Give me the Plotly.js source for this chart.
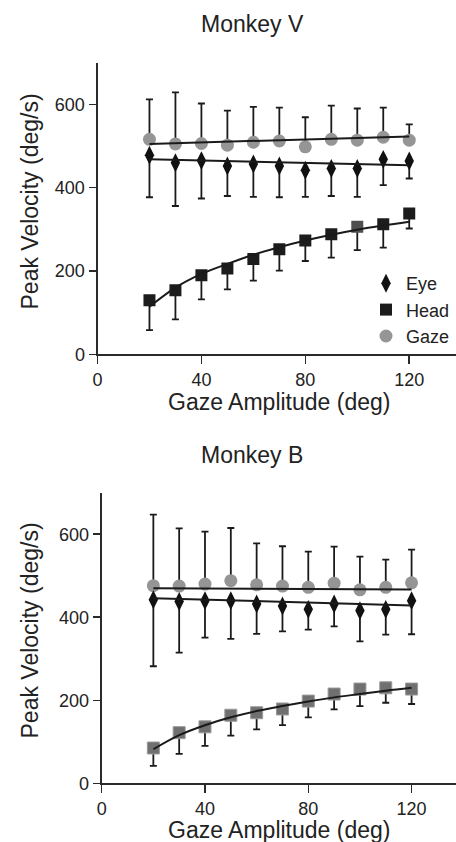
<!DOCTYPE html>
<html>
<head>
<meta charset="utf-8">
<script src="https://cdn.plot.ly/plotly-3.0.1.min.js"></script>
<style>html,body{margin:0;padding:0;background:#fff;}#chart{width:456px;height:842px;}</style>
</head>
<body>
<div id="chart"></div>
<script>
// Gaze amplitude bins (deg)
const amplitude = [20, 30, 40, 50, 60, 70, 80, 90, 100, 110, 120];
const fitEnds = [20, 120];

// Monkey V
const vGaze = [516, 505, 506, 502, 509, 512, 498, 516, 514, 521, 514];
const vGazeErr = [96, 124, 96, 83, 85, 80, 71, 81, 76, 71, 38];
const vEye = [478, 460, 465, 452, 457, 452, 442, 446, 446, 468, 464];
const vEyeErr = [101, 104, 91, 72, 79, 75, 64, 66, 68, 62, 42];
const vHead = [130, 154, 190, 206, 229, 252, 273, 288, 306, 312, 338];
const vHeadErr = [72, 70, 58, 50, 52, 51, 49, 56, 56, 56, 36];
const vGazeFit = [505, 523];
const vEyeFit = [468, 454];
const vHeadFit = [114, 160, 193, 217, 239, 257, 273, 287, 299, 309, 318];

// Monkey B
const bGaze = [476, 475, 480, 488, 478, 475, 472, 482, 466, 472, 483];
const bGazeErr = [171, 139, 126, 127, 100, 96, 86, 88, 80, 67, 80];
const bEye = [442, 438, 440, 440, 432, 427, 419, 432, 416, 419, 440];
const bEyeErr = [160, 123, 89, 92, 72, 61, 49, 54, 74, 61, 81];
const bHead = [85, 122, 136, 164, 170, 179, 198, 215, 227, 230, 227];
const bHeadErr = [43, 51, 46, 49, 40, 39, 39, 37, 41, 36, 36];
const bGazeFit = [470, 467];
const bEyeFit = [446, 428];
const bHeadFit = [82, 116, 140, 159, 174, 186, 197, 207, 215, 223, 230];

const seriesNames = ['Eye', 'Head', 'Gaze'];
const xTicks = [0, 40, 80, 120];
const yTicks = [0, 200, 400, 600];

const zeros = amplitude.map(() => 0);
const INK = '#1a1a1a';
const GREY = '#959595';
const FONT = 'Liberation Sans, Arial, Helvetica, sans-serif';

function errUp(arr) {
  return {type: 'data', symmetric: false, array: arr, arrayminus: zeros,
          color: INK, thickness: 1.8, width: 3.5};
}
function errDown(arr) {
  return {type: 'data', symmetric: false, array: zeros, arrayminus: arr,
          color: INK, thickness: 1.8, width: 3.5};
}

function panel(xa, ya, gaze, gazeErr, eye, eyeErr, head, headErr, headColor, gFit, eFit, hFit, legend) {
  return [
    {x: amplitude, y: gaze, xaxis: xa, yaxis: ya, type: 'scatter', mode: 'markers',
     name: seriesNames[2], legendrank: 3, showlegend: legend,
     marker: {symbol: 'circle', size: 13, color: GREY, line: {width: 0}},
     error_y: errUp(gazeErr)},
    {x: amplitude, y: eye, xaxis: xa, yaxis: ya, type: 'scatter', mode: 'markers',
     name: seriesNames[0], legendrank: 1, showlegend: legend,
     marker: {symbol: 'diamond-tall', size: 13.5, color: '#111111', line: {width: 0}},
     error_y: errDown(eyeErr)},
    {x: amplitude, y: head, xaxis: xa, yaxis: ya, type: 'scatter', mode: 'markers',
     name: seriesNames[1], legendrank: 2, showlegend: legend,
     marker: {symbol: 'square', size: 12, color: headColor,
              line: {width: legend ? 0 : 1, color: '#9a9a9a'}},
     error_y: errDown(headErr)},
    {x: fitEnds, y: gFit, xaxis: xa, yaxis: ya, type: 'scatter', mode: 'lines',
     showlegend: false, hoverinfo: 'skip', line: {color: INK, width: 2}},
    {x: fitEnds, y: eFit, xaxis: xa, yaxis: ya, type: 'scatter', mode: 'lines',
     showlegend: false, hoverinfo: 'skip', line: {color: INK, width: 2}},
    {x: amplitude, y: hFit, xaxis: xa, yaxis: ya, type: 'scatter', mode: 'lines',
     showlegend: false, hoverinfo: 'skip', line: {color: INK, width: 2, shape: 'spline'}}
  ];
}

const vHeadColors = amplitude.map((a, i) => i === 8 ? '#4f4f4f' : '#1c1c1c');
const data = [].concat(
  panel('x', 'y', vGaze, vGazeErr, vEye, vEyeErr, vHead, vHeadErr, vHeadColors, vGazeFit, vEyeFit, vHeadFit, true),
  panel('x2', 'y2', bGaze, bGazeErr, bEye, bEyeErr, bHead, bHeadErr, '#707070', bGazeFit, bEyeFit, bHeadFit, false)
);

const W = 456, H = 842;
function px(x) { return x / W; }
function py(y) { return 1 - y / H; }

function xAxis(domainLeft, anchor, maxR) {
  return {domain: [px(domainLeft), 1], range: [0, maxR], anchor: anchor,
          tickvals: xTicks, ticktext: xTicks.map(String), ticks: 'outside', ticklen: 8,
          tickwidth: 1.5, tickcolor: '#2a2a2a', showline: true, linecolor: '#2a2a2a',
          linewidth: 2, showgrid: false, zeroline: false,
          tickfont: {family: FONT, size: 18, color: '#222'}};
}
function yAxis(top, bottom, anchor) {
  return {domain: [py(bottom), py(top)], range: [0, 700], anchor: anchor,
          tickvals: yTicks, ticktext: yTicks.map(String), ticks: 'outside', ticklen: 7,
          tickwidth: 1.5, tickcolor: '#2a2a2a', showline: true, linecolor: '#2a2a2a',
          linewidth: 2, showgrid: false, zeroline: false,
          tickfont: {family: FONT, size: 18, color: '#222'}};
}

const titleFont = {family: FONT, size: 23, color: '#222'};
function ann(text, x, y, angle) {
  return {text: text, xref: 'paper', yref: 'paper', x: px(x), y: py(y),
          xanchor: 'center', yanchor: 'middle', showarrow: false,
          textangle: angle || 0, font: titleFont};
}

const layout = {
  width: W, height: H,
  margin: {l: 0, r: 0, t: 0, b: 0},
  paper_bgcolor: '#fff', plot_bgcolor: '#fff',
  showlegend: true,
  legend: {x: px(366), y: py(265), xanchor: 'left', yanchor: 'top',
           bgcolor: 'rgba(0,0,0,0)', font: {family: FONT, size: 18, color: '#222'},
           tracegroupgap: 0, itemclick: false},
  xaxis: xAxis(97.5, 'y', 138),
  yaxis: yAxis(62.7, 354.3, 'x'),
  xaxis2: xAxis(101.7, 'y2', 137.2),
  yaxis2: yAxis(492.7, 783.3, 'x2'),
  annotations: [
    ann('Monkey V', 252, 24),
    ann('Gaze Amplitude (deg)', 279, 402),
    ann('Peak Velocity (deg/s)', 29.5, 202, -90),
    ann('Monkey B', 252, 455),
    ann('Gaze Amplitude (deg)', 279, 830),
    ann('Peak Velocity (deg/s)', 29.5, 631, -90)
  ]
};

Plotly.newPlot('chart', data, layout, {staticPlot: true, displayModeBar: false});
</script>
</body>
</html>
